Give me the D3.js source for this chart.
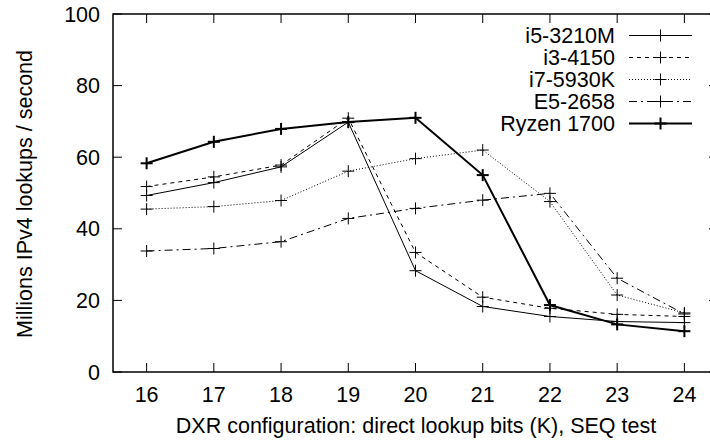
<!DOCTYPE html>
<html><head><meta charset="utf-8">
<script src="https://cdn.jsdelivr.net/npm/d3@7"></script>
<style>body{margin:0;background:#fff}svg{display:block}text{font-family:"Liberation Sans",Arial,Helvetica,sans-serif;fill:#000}</style>
</head><body><svg id="c" width="710" height="443"></svg>
<script>
const xValues = [16,17,18,19,20,21,22,23,24];
const seriesNames = ["i5-3210M","i3-4150","i7-5930K","E5-2658","Ryzen 1700"];
const i5_3210M = [49.3,52.9,57.3,69.8,28.3,18.3,15.5,14.1,13.8];
const i3_4150  = [51.8,54.5,57.8,70.9,33.4,20.9,17.8,16.1,15.5];
const i7_5930K = [45.5,46.2,47.9,56.1,59.6,62.0,47.6,21.5,16.5];
const e5_2658  = [33.8,34.5,36.4,42.9,45.7,48.0,49.9,26.2,16.2];
const ryzen1700= [58.3,64.3,67.9,69.8,71.0,55.0,18.7,13.3,11.4];
const yTicks = [0,20,40,60,80,100];
const xLabel = "DXR configuration: direct lookup bits (K), SEQ test";
const yLabel = "Millions IPv4 lookups / second";

const seriesData = [i5_3210M,i3_4150,i7_5930K,e5_2658,ryzen1700];
const styles = [
  {w:1, dash:null},
  {w:1, dash:"4,4"},
  {w:1, dash:"1,2"},
  {w:1, dash:"8,4,2,4"},
  {w:2, dash:null}
];
const FS = 21.5;

const svg = d3.select("#c");
const x = d3.scaleLinear().domain([15.5,24.5]).range([113,718]);
const y = d3.scaleLinear().domain([0,100]).range([372,14]);

const g = svg.append("g");
xValues.forEach(v=>{
  g.append("line").attr("x1",x(v)).attr("x2",x(v)).attr("y1",372).attr("y2",363).attr("stroke","#000").attr("stroke-width",1);
  g.append("line").attr("x1",x(v)).attr("x2",x(v)).attr("y1",14).attr("y2",23).attr("stroke","#000").attr("stroke-width",1);
  g.append("text").attr("x",x(v)).attr("y",401.5).attr("text-anchor","middle").attr("font-size",FS).text(v);
});
yTicks.forEach(v=>{
  g.append("line").attr("x1",113).attr("x2",122).attr("y1",y(v)).attr("y2",y(v)).attr("stroke","#000").attr("stroke-width",1);
  g.append("line").attr("x1",718).attr("x2",709).attr("y1",y(v)).attr("y2",y(v)).attr("stroke","#000").attr("stroke-width",1);
  g.append("text").attr("x",100).attr("y",y(v)+7.5).attr("text-anchor","end").attr("font-size",FS).text(v);
});
svg.append("rect").attr("x",113).attr("y",14).attr("width",605).attr("height",358)
  .attr("fill","none").attr("stroke","#000").attr("stroke-width",1.5);

const line = d3.line().x((d,i)=>x(xValues[i])).y(d=>y(d));
function cross(sel, cx, cy, w){
  sel.append("line").attr("x1",cx-6).attr("x2",cx+6).attr("y1",cy).attr("y2",cy).attr("stroke","#000").attr("stroke-width",w);
  sel.append("line").attr("x1",cx).attr("x2",cx).attr("y1",cy-6).attr("y2",cy+6).attr("stroke","#000").attr("stroke-width",w);
}
seriesData.forEach((data,k)=>{
  const s = styles[k];
  const sg = svg.append("g");
  sg.append("path").attr("d",line(data)).attr("fill","none").attr("stroke","#000")
    .attr("stroke-width",s.w).attr("stroke-dasharray",s.dash);
  data.forEach((d,i)=>cross(sg,x(xValues[i]),y(d),s.w));
});

seriesNames.forEach((n,k)=>{
  const s = styles[k];
  const ly = 35.5 + k*22;
  svg.append("text").attr("x",615).attr("y",ly+7.5).attr("text-anchor","end").attr("font-size",FS).text(n);
  svg.append("line").attr("x1",629).attr("x2",692).attr("y1",ly).attr("y2",ly).attr("stroke","#000")
    .attr("stroke-width",s.w).attr("stroke-dasharray",s.dash);
  cross(svg,660.5,ly,s.w);
});

svg.append("text").attr("x",416).attr("y",433).attr("text-anchor","middle").attr("font-size",FS).text(xLabel);
svg.append("text").attr("transform","translate(31.5,194) rotate(-90)").attr("text-anchor","middle").attr("font-size",FS).text(yLabel);
</script></body></html>
